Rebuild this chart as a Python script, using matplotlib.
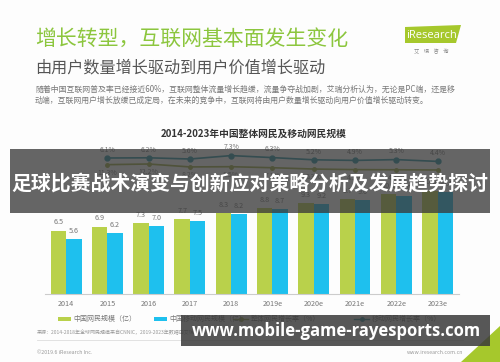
import matplotlib.pyplot as plt
import matplotlib.patches as mpatches

plt.rcParams['font.family'] = ['Noto Sans CJK SC', 'DejaVu Sans']

# data
years = ['2014', '2015', '2016', '2017', '2018', '2019e', '2020e', '2021e', '2022e', '2023e']
netizens = [6.5, 6.9, 7.3, 7.7, 8.3, 8.8, 9.3, 9.7, 10.2, 10.6]
mobile_netizens = [5.6, 6.2, 7.0, 7.5, 8.2, 8.7, 9.2, 9.6, 10.0, 10.4]
growth_years = years[1:]
overall_growth = [6.1, 6.2, 5.6, 7.3, 6.3, 5.2, 4.9, 5.3, 4.4]
mobile_growth = [11.3, 12.2, 8.2, 8.5, 7.1, 5.3, 4.5, 4.3, 4.0]

GREEN = '#b9d14b'
CYAN = '#1ec0ee'
TEAL = '#1f8e9e'
OLIVE = '#9aa83a'
W, H = 500, 362

fig = plt.figure(figsize=(5, 3.62), dpi=100)
fig.patch.set_facecolor('#fdfdfd')


def box(x0, y0, x1, y1):
    # pixel box (top-left origin) -> figure fraction rect
    return [x0 / W, 1 - y1 / H, (x1 - x0) / W, (y1 - y0) / H]


# background canvas for text
bg = fig.add_axes([0, 0, 1, 1], zorder=0)
bg.set_xlim(0, W)
bg.set_ylim(H, 0)
bg.axis('off')

bg.text(35, 39, '增长转型，互联网基本面发生变化', fontsize=15, color='#8cc63e', va='center')
bg.text(35, 68, '由用户数量增长驱动到用户价值增长驱动', fontsize=11.6, color='#555555', va='center')
bg.text(35, 89, '随着中国互联网普及率已经接近60%，互联网整体流量增长趋缓，流量争夺战加剧，艾瑞分析认为，无论是PC端，还是移',
        fontsize=5.7, color='#777777', va='center')
bg.text(35, 100, '动端，互联网用户增长放缓已成定局，在未来的竞争中，互联网将由用户数量增长驱动向用户价值增长驱动转变。',
        fontsize=5.7, color='#777777', va='center')

# iResearch logo
bg.add_patch(mpatches.Polygon([(405, 27), (461, 25), (456, 43), (405, 43)], closed=True,
                              facecolor='#a6c82c', edgecolor='none'))
bg.text(406, 35, 'iResearch', fontsize=8.0, color='white', va='center', family='Open Sans')
bg.text(431, 51, '艾    瑞    咨    询', fontsize=3.8, color='#888888', va='center', ha='center')

bg.text(254, 134, '2014-2023年中国整体网民及移动网民规模', fontsize=7, fontweight='bold',
        color='#333333', ha='center', va='center')

# legend
bg.add_patch(mpatches.Rectangle((58, 317), 13, 4, facecolor=GREEN, edgecolor='none'))
bg.text(73, 319, '中国网民规模（亿）', fontsize=5, color='#777777', va='center')
bg.add_patch(mpatches.Rectangle((154, 317), 13, 4, facecolor=CYAN, edgecolor='none'))
bg.text(169, 319, '中国移动网民规模（亿）', fontsize=5, color='#777777', va='center')
bg.plot([233, 248], [319, 319], color=OLIVE, lw=1)
bg.plot([240.5], [319], marker='o', ms=2.5, color=OLIVE)
bg.text(251, 319, '整体网民增长率（%）', fontsize=5, color='#777777', va='center')
bg.plot([354, 369], [319, 319], color=TEAL, lw=1)
bg.plot([361.5], [319], marker='o', ms=2.5, color=TEAL)
bg.text(372, 319, '移动网民增长率（%）', fontsize=5, color='#777777', va='center')

# footer
bg.text(37, 332, '来源：2014-2018年全球网民规模来自CNNIC，2019-2023年数据由艾瑞预测。',
        fontsize=3.6, color='#999999', va='center')
bg.plot([37, 463], [340, 340], color='#dddddd', lw=0.6)
bg.text(37, 352, '©2019.6 iResearch Inc.', fontsize=3.8, color='#999999', va='center')
bg.text(463, 352, 'www.iresearch.com.cn', fontsize=3.8, color='#999999', va='center', ha='right')
bg.add_patch(mpatches.Polygon([(500, 326), (500, 362), (461, 362)], closed=True,
                              facecolor='#a6c82c', edgecolor='none'))

# bar chart
x = list(range(len(years)))
bw = 0.375
ax = fig.add_axes(box(45, 180, 459, 294), zorder=1)
ax.patch.set_alpha(0)
ax.bar([i - bw / 2 for i in x], netizens, bw, color=GREEN)
ax.bar([i + bw / 2 for i in x], mobile_netizens, bw, color=CYAN)
for i, v in enumerate(netizens):
    ax.annotate(f'{v:.1f}', (i - bw / 2, v), xytext=(0, 3), textcoords='offset points',
                ha='center', va='bottom', fontsize=5.2, color='#777777')
for i, v in enumerate(mobile_netizens):
    ax.annotate(f'{v:.1f}', (i + bw / 2, v), xytext=(0, 3), textcoords='offset points',
                ha='center', va='bottom', fontsize=5.2, color='#777777')
ax.set_xlim(-0.51, 9.52)
ax.set_ylim(0, 11.68)
ax.set_xticks(x)
ax.set_xticklabels(years, fontsize=5.2, color='#777777')
ax.tick_params(axis='x', length=0, pad=4)
ax.set_yticks([])
for s in ['top', 'left', 'right']:
    ax.spines[s].set_visible(False)
ax.spines['bottom'].set_color('#cccccc')
ax.spines['bottom'].set_linewidth(0.8)

# growth lines (each on its own compressed scale)
gx = x[1:]
ax_t = fig.add_axes(box(45, 150, 459, 175), zorder=2)
ax_t.axis('off')
ax_t.set_xlim(-0.51, 9.52)
ax_t.set_ylim(-2.4, 10.1)
ax_t.plot(gx, overall_growth, color=TEAL, lw=1.2, marker='o', ms=3.5)
for i, v in zip(gx, overall_growth):
    ax_t.annotate(f'{v}%', (i, v), xytext=(0, 3), textcoords='offset points',
                  ha='center', va='bottom', fontsize=5, color='#777777')

ax_o = fig.add_axes(box(45, 150, 459, 175), zorder=2)
ax_o.axis('off')
ax_o.set_xlim(-0.51, 9.52)
ax_o.set_ylim(-2.87, 31.4)
ax_o.plot(gx, mobile_growth, color=OLIVE, lw=1.2, marker='o', ms=2.5)
for i, v in zip(gx, mobile_growth):
    ax_o.annotate(f'{v}%', (i, v), xytext=(0, -3), textcoords='offset points',
                  ha='center', va='top', fontsize=5, color='#777777')

# overlay bands
top = fig.add_axes([0, 0, 1, 1], zorder=5)
top.set_xlim(0, W)
top.set_ylim(H, 0)
top.axis('off')
top.patch.set_alpha(0)
top.add_patch(mpatches.Rectangle((10, 149), 480, 64, facecolor='#3a3a3a', alpha=0.78, edgecolor='none'))
top.text(250, 184, '足球比赛战术演变与创新应对策略分析及发展趋势探讨', fontsize=14.3, fontweight='bold',
         color='white', ha='center', va='center')
top.add_patch(mpatches.Rectangle((181, 315), 309, 31, facecolor='#3a3a3a', alpha=0.85, edgecolor='none'))
top.text(336, 331, 'www.mobile-game-rayesports.com', fontsize=12, fontweight='bold',
         color='white', ha='center', va='center', family='Open Sans')

fig.savefig('out.png', dpi=100)
